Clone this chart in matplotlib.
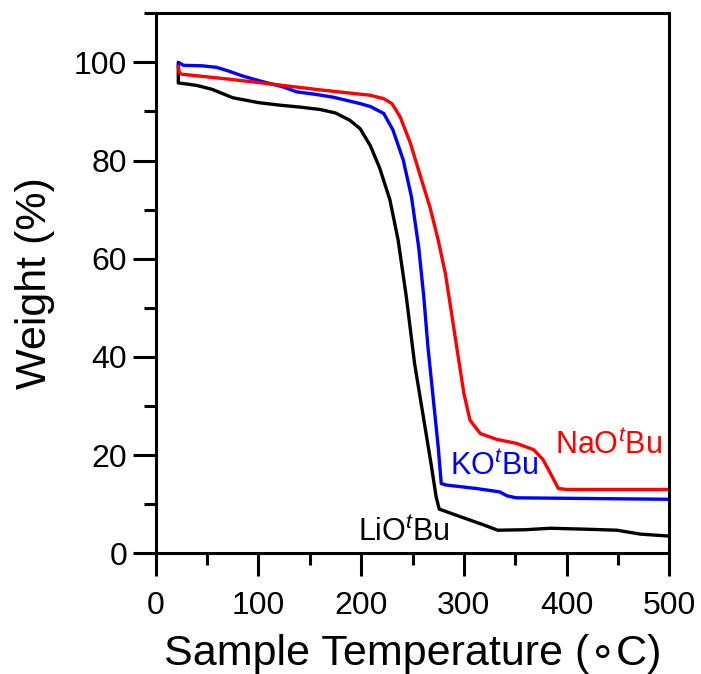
import numpy as np
from matplotlib import pyplot as plt
from matplotlib.ticker import MultipleLocator

plt.rcParams['font.family'] = ['Liberation Sans', 'DejaVu Sans']
plt.rcParams['mathtext.fontset'] = 'custom'
plt.rcParams['mathtext.rm'] = 'Liberation Sans'
plt.rcParams['mathtext.it'] = 'Liberation Sans:italic'

# LiOtBu (black)
t_li = [22, 22, 30, 40, 55, 75, 100, 120, 140, 160, 175, 189, 199, 209, 218, 228, 236,
        244, 252, 260, 268, 273, 276, 296, 319, 333, 360, 384, 420, 449, 472, 500]
w_li = [100, 95.8, 95.6, 95.3, 94.5, 92.8, 91.8, 91.3, 90.9, 90.4, 89.7, 88.2, 86.5, 83.0,
        78.5, 72.0, 63.8, 52.2, 38.7, 28.5, 18.3, 11.5, 9.0, 7.5, 5.8, 4.7, 4.8, 5.1, 4.9,
        4.7, 3.9, 3.5]

# KOtBu (blue)
t_k = [22, 23, 27, 45, 59, 70, 85, 100, 124, 137, 155, 173, 199, 209, 222, 231, 241, 249,
       256, 261, 265, 270, 275, 278, 283, 312, 335, 342, 351, 500]
w_k = [99.3, 99.9, 99.4, 99.3, 99.0, 98.3, 97.2, 96.3, 95.0, 94.0, 93.5, 92.9, 91.6, 91.0,
       89.6, 86.2, 80.1, 72.6, 62.4, 52.2, 42.1, 31.9, 21.7, 14.2, 13.9, 13.2, 12.5, 11.7,
       11.3, 11.0]

# NaOtBu (red)
t_na = [22, 23, 25, 75, 124, 160, 209, 222, 230, 238, 248, 257, 267, 275, 282, 288, 294,
        300, 306, 316, 332, 351, 368, 377, 386, 392, 400, 500]
w_na = [99.2, 97.9, 97.6, 96.5, 95.3, 94.4, 93.3, 92.6, 91.6, 88.9, 83.5, 77.3, 70.5, 63.8,
        57.0, 48.9, 40.7, 32.6, 27.1, 24.4, 23.2, 22.4, 21.1, 19.1, 15.6, 13.2, 13.0, 13.0]

fig = plt.figure(figsize=(7.01, 6.74), dpi=100)
ax = fig.add_axes([0.2221, 0.1791, 0.7327, 0.8012])

kw = dict(lw=2.4, solid_joinstyle='round', solid_capstyle='round')
ax.plot(t_li, w_li, color='black', **kw)
ax.plot(t_k, w_k, color='#0000ff', **kw)
ax.plot(t_na, w_na, color='#ff0000', **kw)

ax.text(197, 4.1, r'LiO$^{\mathit{t}}$Bu', color='black', fontsize=22, va='center')
ax.text(286.5, 17.6, r'KO$^{\mathit{t}}$Bu', color='#0000ff', fontsize=22, va='center')
ax.text(389, 22.0, r'NaO$^{\mathit{t}}$Bu', color='#ff0000', fontsize=22, va='center')

ax.set_xlim(0, 500)
ax.set_ylim(0, 110)
ax.xaxis.set_major_locator(MultipleLocator(100))
ax.xaxis.set_minor_locator(MultipleLocator(50))
ax.yaxis.set_major_locator(MultipleLocator(20))
ax.yaxis.set_minor_locator(MultipleLocator(10))
ax.tick_params(which='major', direction='out', length=16.5, width=2.2, labelsize=23, pad=4)
ax.tick_params(which='minor', direction='out', length=8.5, width=2.2)
ax.tick_params(axis='x', which='major', pad=11)
for s in ax.spines.values():
    s.set_linewidth(2.2)

ax.set_xlabel('Sample Temperature (\u2218C)', fontsize=31)
ax.set_ylabel('Weight (%)', fontsize=31)
ax.xaxis.set_label_coords(0.5, -0.150)
ax.yaxis.set_label_coords(-0.196, 0.5)

fig.savefig('out.png', dpi=100)
